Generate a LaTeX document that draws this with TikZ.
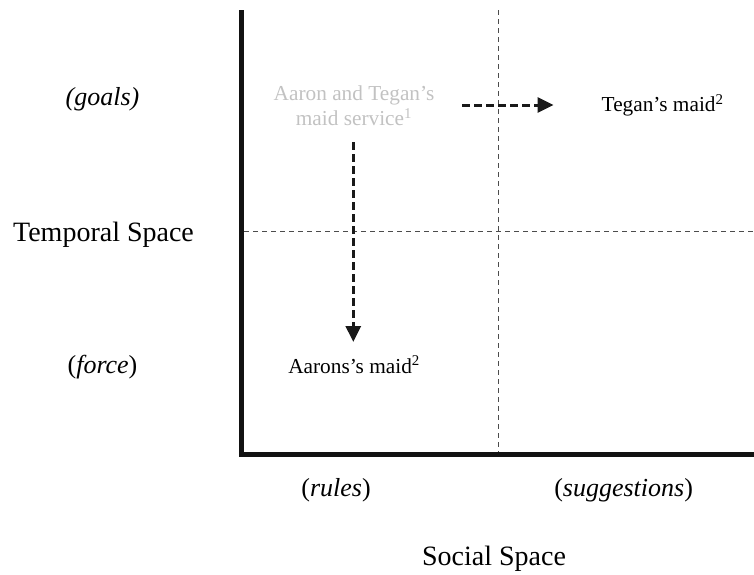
\documentclass[tikz,border=0pt]{standalone}
\usepackage{fontspec}
\setmainfont{Liberation Serif}
\usetikzlibrary{positioning}
\usetikzlibrary{arrows.meta}

\begin{document}
\begin{tikzpicture}[x=1pt,y=-1pt]
\definecolor[named]{axisColor}{rgb}{0.07,0.07,0.07}
\definecolor[named]{gridColor}{rgb}{0.30,0.30,0.30}
\definecolor[named]{arrowColor}{rgb}{0.10,0.10,0.10}
\definecolor[named]{fadeColor}{rgb}{0.76,0.76,0.76}
\tikzset{
  bigtext/.style={inner sep=0pt,outer sep=0pt,anchor=base,font=\fontsize{28}{34}\selectfont},
  sidetext/.style={inner sep=0pt,outer sep=0pt,anchor=base,font=\fontsize{26}{31}\selectfont},
  itemtext/.style={inner sep=0pt,outer sep=0pt,anchor=base,font=\fontsize{21.3}{25.7}\selectfont},
  gridline/.style={draw=gridColor,line width=0.9pt,dash pattern=on 5pt off 4pt},
  moveline/.style={draw=arrowColor,line width=3pt,dash pattern=on 8pt off 4pt,
    -{Triangle[length=16pt,width=15pt]}}
}
\path[use as bounding box] (0,0) rectangle (754,574);

% quadrant lines
\path[gridline] (498,10) -- (498,452);
\path[gridline] (244,231) -- (754,231);

% axes
\path[draw=axisColor,line width=4.8pt,line join=miter] (241.5,10) |- (754,454.5);

% axis labels
\node[sidetext] (goals) at (102.5,105) {\textit{(goals)}};
\node[bigtext] (temporal) at (103.5,241.7) {Temporal Space};
\node[sidetext] (force) at (102.5,373) {(\textit{force})};
\node[sidetext] (rules) at (336,496.5) {(\textit{rules})};
\node[sidetext] (suggest) at (623.6,496.5) {(\textit{suggestions})};
\node[bigtext] (social) at (494,565) {Social Space};

% items
\node[itemtext,text=fadeColor,align=center] (service) at (354,125.7)
  {Aaron and Tegan’s\\maid service\textsuperscript{1}};
\node[itemtext,anchor=base west] (tmaid) at (601.7,111.7) {Tegan’s maid\textsuperscript{2}};
\node[itemtext,anchor=base west] (amaid) at (288.3,373) {Aarons’s maid\textsuperscript{2}};

% moves
\coordinate (hstart) at (462,105);
\coordinate (hend) at (553.5,105);
\coordinate (vstart) at (353.3,142);
\coordinate (vend) at (353.3,342);
\path[moveline] (hstart) -- (hend);
\path[moveline] (vstart) -- (vend);
\end{tikzpicture}
\end{document}
